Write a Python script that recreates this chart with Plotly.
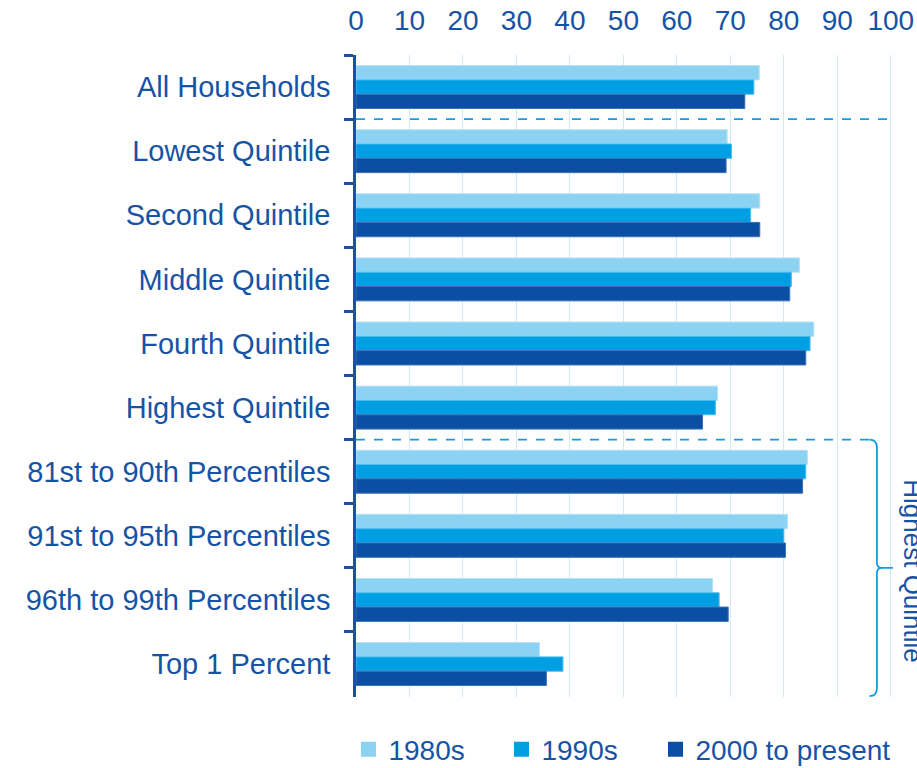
import plotly.graph_objects as go

categories = [
    "All Households",
    "Lowest Quintile",
    "Second Quintile",
    "Middle Quintile",
    "Fourth Quintile",
    "Highest Quintile",
    "81st to 90th Percentiles",
    "91st to 95th Percentiles",
    "96th to 99th Percentiles",
    "Top 1 Percent",
]
series_names = ["1980s", "1990s", "2000 to present"]
values_1980s = [75.4, 69.4, 75.5, 82.9, 85.6, 67.6, 84.4, 80.7, 66.7, 34.3]
values_1990s = [74.4, 70.2, 73.8, 81.4, 84.9, 67.2, 84.1, 80.0, 67.9, 38.7]
values_2000s = [72.7, 69.2, 75.5, 81.1, 84.1, 64.8, 83.5, 80.3, 69.6, 35.6]
x_ticks = [0, 10, 20, 30, 40, 50, 60, 70, 80, 90, 100]

colors = ["#8bd2f3", "#009fe3", "#0a4fa3"]
edge_colors = ["#b5e2f7", "#4bbcec", "#3d6fb4"]
text_color = "#1753a5"
accent = "#119ee0"
font_family = "Liberation Sans, Arial, sans-serif"

# each series gets its own legend box so the bottom key can be spaced out evenly
legend_ids = ["legend", "legend2", "legend3"]
legend_x = [-0.014, 0.2704, 0.5567]

fig = go.Figure()
for name, vals, c, ec in zip(series_names, [values_1980s, values_1990s, values_2000s], colors, edge_colors):
    fig.add_trace(go.Bar(
        y=categories, x=vals, name=name, orientation="h", showlegend=False,
        marker=dict(color=c, line=dict(color=ec, width=1)),
    ))
for name, c, lid in zip(series_names, colors, legend_ids):
    fig.add_trace(go.Scatter(
        x=[None], y=[None], mode="markers", name=name, legend=lid, showlegend=True,
        marker=dict(symbol="square", size=15, color=c, line=dict(width=0)),
    ))

# group separators: dashed rule under "All Households", dashed rule + brace for the top-quintile breakdown
fig.add_shape(type="line", xref="x", yref="y", x0=0, x1=100.6, y0=0.5, y1=0.5,
              line=dict(color=accent, width=1.6, dash="dash"))
fig.add_shape(type="line", xref="x", yref="y", x0=0, x1=96.0, y0=5.5, y1=5.5,
              line=dict(color=accent, width=1.6, dash="dash"))
brace = ("M 96.0,5.5 Q 97.4,5.5 97.4,5.62 L 97.4,7.42 Q 97.4,7.5 98.4,7.5 L 100.4,7.5 "
         "M 98.4,7.5 Q 97.4,7.5 97.4,7.58 L 97.4,9.38 Q 97.4,9.5 96.0,9.5")
fig.add_shape(type="path", xref="x", yref="y", path=brace,
              line=dict(color=accent, width=1.8))

fig.add_annotation(text="Highest Quintile", xref="paper", yref="y", x=1.035, y=7.55,
                   textangle=90, showarrow=False, xanchor="center", yanchor="middle",
                   font=dict(size=26, color=text_color, family=font_family))

legend_style = dict(orientation="h", xanchor="left", y=-0.082, yanchor="middle",
                    font=dict(size=28, color=text_color), bgcolor="rgba(0,0,0,0)",
                    borderwidth=0)

fig.update_layout(
    width=917, height=768,
    margin=dict(l=356, r=23, t=55, b=71, autoexpand=False),
    paper_bgcolor="white", plot_bgcolor="white",
    barmode="group", bargap=0.33, bargroupgap=0,
    font=dict(family=font_family, color=text_color, size=28),
    showlegend=True,
    legend=dict(x=legend_x[0], **legend_style),
    legend2=dict(x=legend_x[1], **legend_style),
    legend3=dict(x=legend_x[2], **legend_style),
    xaxis=dict(side="top", range=[0, 100.6], tickvals=x_ticks, ticktext=[str(t) for t in x_ticks],
               showgrid=True, gridcolor="#cdeaf8", gridwidth=1, zeroline=False,
               showline=False, ticks="", ticklabelstandoff=18, automargin=False,
               tickfont=dict(size=28, color=text_color)),
    yaxis=dict(type="category", categoryorder="array", categoryarray=categories,
               autorange="reversed", showline=True, linecolor="#1c50a0", linewidth=2.5,
               ticks="outside", tickson="boundaries", ticklen=9, tickwidth=2.5, tickcolor="#1c50a0",
               ticklabelstandoff=17, showgrid=False, automargin=False,
               tickfont=dict(size=29, color=text_color)),
)

fig.write_html("out.html")
